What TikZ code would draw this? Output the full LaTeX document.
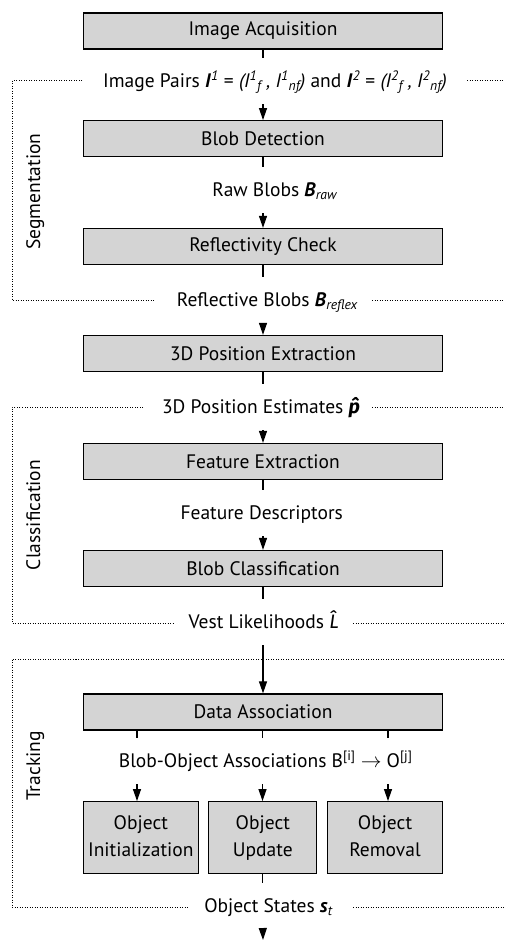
\documentclass[tikz,border=0pt]{standalone}
\usepackage{fontspec}
\setmainfont{PT Sans}
\newfontfamily\accfont{Fira Sans}
\usetikzlibrary{arrows.meta}
\definecolor{boxgray}{RGB}{212,212,212}
\newcommand\bi[1]{\textbf{\textit{#1}}}
\newcommand\sbs[1]{\textsubscript{#1}}
\newcommand\sps[1]{\textsuperscript{#1}}
\begin{document}
\begin{tikzpicture}[x=1pt,y=-1pt,
  font=\fontsize{19.5}{27}\selectfont,
  stepbox/.style={draw, line width=1.3pt, fill=boxgray, minimum width=359pt, minimum height=36pt, inner sep=0pt},
  smallbox/.style={draw, line width=1.3pt, fill=boxgray, minimum height=72pt, inner sep=0pt, align=center},
  flow/.style={text height=13.7pt, text depth=0pt, inner xsep=0pt, inner ysep=16pt},
  conn/.style={line width=1.2pt},
  arr/.style={conn, -{Triangle[length=12pt,width=8pt]}},
  frame/.style={line width=1pt, dash pattern=on 1pt off 1.5pt},
  grouplabel/.style={rotate=90, anchor=base}
]
\useasboundingbox (0,0) rectangle (504,941);

% boxes
\node[stepbox] (ia) at (263,31) {Image Acquisition};
\node[stepbox] (bd) at (263,138.7) {Blob Detection};
\node[stepbox] (rc) at (263,246.5) {Reflectivity Check};
\node[stepbox] (pe) at (263,353.5) {3D Position Extraction};
\node[stepbox] (fe) at (263,461.5) {Feature Extraction};
\node[stepbox] (bc) at (263,568.5) {Blob Classification};
\node[stepbox] (da) at (263,712) {Data Association};
\node[smallbox, minimum width=115pt] (oi) at (140.8,837.7) {\strut Object\\\strut Initialization};
\node[smallbox, minimum width=108pt] (ou) at (262.8,837.7) {\strut Object\\\strut Update};
\node[smallbox, minimum width=115.4pt] (or) at (385,837.7) {\strut Object\\\strut Removal};

% flow labels
\node[flow] (pairs) at (275,81) {Image Pairs \bi{I}\sps{\textit{1}} = \textit{(I\sps{1}\sbs{f} , I\sps{1}\sbs{nf})} and \bi{I}\sps{\textit{2}} = \textit{(I\sps{2}\sbs{f} , I\sps{2}\sbs{nf})}};
\node[flow] (raw) at (275,190) {Raw Blobs \bi{B}\sbs{\textit{raw}}};
\node[flow] (refl) at (267.5,300) {Reflective Blobs \bi{B}\sbs{\textit{reflex}}};
\node[flow] (est) at (261,407) {3D Position Estimates {\accfont\bfseries\itshape p^^^^0302}};
\node[flow] (desc) at (261.7,513) {Feature Descriptors};
\node[flow] (vest) at (263.8,622) {Vest Likelihoods {\accfont\itshape L^^^^0302}};
\node[flow] (assoc) at (265.7,761) {Blob-Object Associations B\sps{[i]} $\rightarrow$ O\sps{[j]}};
\node[flow] (states) at (268.7,906) {Object States \bi{s}\sbs{\textit{t}}};
\coordinate (out) at (263,940);

% connectors
\draw[conn] (ia.south) -- (ia.south |- pairs.north);
\draw[arr] (ia.south |- pairs.south) -- (bd.north);
\draw[conn] (bd.south) -- (bd.south |- raw.north);
\draw[arr] (bd.south |- raw.south) -- (rc.north);
\draw[conn] (rc.south) -- (rc.south |- refl.north);
\draw[arr] (rc.south |- refl.south) -- (pe.north);
\draw[conn] (pe.south) -- (pe.south |- est.north);
\draw[arr] (pe.south |- est.south) -- (fe.north);
\draw[conn] (fe.south) -- (fe.south |- desc.north);
\draw[arr] (fe.south |- desc.south) -- (bc.north);
\draw[conn] (bc.south) -- (bc.south |- vest.north);
\draw[arr] (bc.south |- vest.south) -- (da.north);
\coordinate (x1) at (137,0);
\coordinate (x2) at (262.5,0);
\coordinate (x3) at (388,0);
\foreach \x/\b in {x1/oi,x2/ou,x3/or}{
  \draw[conn] (\x |- da.south) -- (\x |- assoc.north);
  \draw[arr] (\x |- assoc.south) -- (\x |- \b.north);
}
\draw[conn] (ou.south) -- (ou.south |- states.north);
\draw[arr] (ou.south |- states.south) -- (out);

% group frames
\draw[frame] (82,81) -- (12,81) -- (12,300) -- (155,300);
\draw[frame] (467,81) -- (504,81);
\draw[frame] (372,300) -- (504,300);
\draw[frame] (143,407) -- (12,407) -- (12,623) -- (173,623);
\draw[frame] (372,407) -- (504,407);
\draw[frame] (353,623) -- (504,623);
\draw[frame] (504,659) -- (12,659) -- (12,907) -- (188,907);
\draw[frame] (353,907) -- (504,907);

\node[grouplabel] (seg) at (40,191.5) {Segmentation};
\node[grouplabel] (cls) at (40,515) {Classification};
\node[grouplabel] (trk) at (40,766) {Tracking};
\end{tikzpicture}
\end{document}
